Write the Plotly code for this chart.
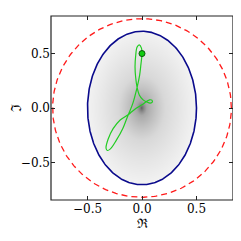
import numpy as np
import plotly.graph_objects as go

# --- data ---
ellipse_a = 0.50   # semi-axis along Re
ellipse_b = 0.705  # semi-axis along Im
circle_r = 0.82    # dashed circle radius

orbit_re = [0.0, -0.005, -0.025, -0.045, -0.058, -0.064, -0.058, -0.045, -0.025, 0.01,
            0.045, 0.075, 0.095, 0.09, 0.07, 0.04, 0.0, -0.05, -0.095, -0.125, -0.2,
            -0.265, -0.312, -0.33, -0.318, -0.29, -0.235, -0.175, -0.145, -0.125, -0.085,
            -0.045, -0.022, -0.01, 0.0]
orbit_im = [0.50, 0.55, 0.58, 0.56, 0.48, 0.38, 0.28, 0.19, 0.12, 0.075,
            0.055, 0.045, 0.055, 0.072, 0.075, 0.058, 0.03, 0.0, -0.035, -0.06, -0.11,
            -0.19, -0.29, -0.37, -0.39, -0.375, -0.295, -0.185, -0.11, -0.06, 0.04,
            0.19, 0.30, 0.40, 0.50]
start_re = [0.0]
start_im = [0.50]

tick_vals = [-0.5, 0.0, 0.5]
tick_text = ["\u22120.5", "0.0", "0.5"]

# --- shaded interior of the ellipse ---
gx = np.linspace(-ellipse_a, ellipse_a, 221)
gy = np.linspace(-ellipse_b, ellipse_b, 301)
X, Y = np.meshgrid(gx, gy)
R = np.sqrt((X / ellipse_a) ** 2 + (Y / ellipse_b) ** 2)
Z = np.where(R <= 1.0, R ** 0.6, np.nan)

t = np.linspace(0, 2 * np.pi, 361)

fig = go.Figure()
fig.add_trace(go.Heatmap(x=gx, y=gy, z=Z, showscale=False, hoverinfo="skip",
                         zmin=0, zmax=1,
                         colorscale=[[0, "#505050"], [0.25, "#a8a8a8"], [0.6, "#d8d8d8"], [1, "#f2f2f2"]]))
fig.add_trace(go.Scatter(x=circle_r * np.cos(t), y=circle_r * np.sin(t), mode="lines",
                         line=dict(color="#ff1a1a", width=1.3, dash="6px,4px"), showlegend=False))
fig.add_trace(go.Scatter(x=ellipse_a * np.cos(t), y=ellipse_b * np.sin(t), mode="lines",
                         line=dict(color="#0a0a8c", width=1.6), showlegend=False))
fig.add_trace(go.Scatter(x=orbit_re, y=orbit_im, mode="lines",
                         line=dict(color="#22cc22", width=1.2, shape="spline", smoothing=1.0),
                         showlegend=False))
fig.add_trace(go.Scatter(x=start_re, y=start_im, mode="markers",
                         marker=dict(color="#11cc11", size=6, line=dict(color="#0a5a0a", width=1)),
                         showlegend=False))

axis_common = dict(showgrid=False, zeroline=False, showline=False,
                   mirror="allticks", ticks="inside", ticklen=4, tickcolor="#222222", tickwidth=1,
                   tickvals=tick_vals, ticktext=tick_text, automargin=False,
                   tickfont=dict(family="DejaVu Serif", size=12, color="black"))
fig.update_xaxes(range=[-0.835, 0.835], title=dict(text="\u211c", standoff=2,
                 font=dict(family="DejaVu Serif", size=13, color="black")), **axis_common)
fig.update_yaxes(range=[-0.845, 0.845], title=dict(text="\u2111", standoff=4,
                 font=dict(family="DejaVu Serif", size=14, color="black")), **axis_common)

# plot frame
fig.add_shape(type="rect", xref="paper", yref="paper", x0=0, x1=1, y0=0, y1=1,
              line=dict(color="#222222", width=1.2), layer="above")

# the page body has an 8px margin, so the figure is sized/offset to compensate
fig.update_layout(width=233, height=233, margin=dict(l=43, r=8, t=8, b=41),
                  paper_bgcolor="white", plot_bgcolor="white", showlegend=False)
fig.write_html("out.html")
